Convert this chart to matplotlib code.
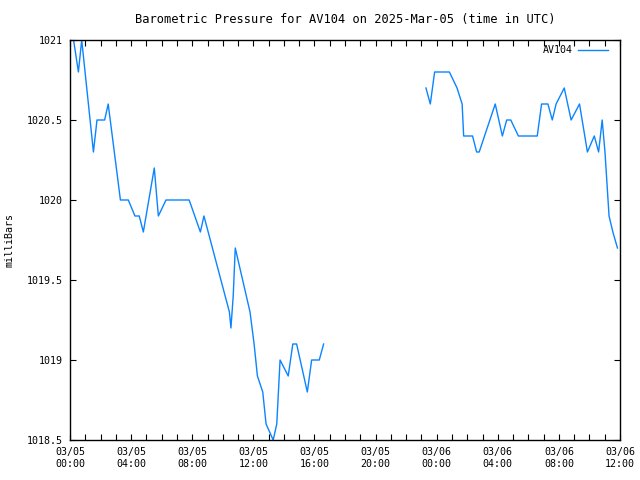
import pandas as pd
import matplotlib
matplotlib.use("Agg")
import matplotlib.pyplot as plt
import matplotlib.dates as mdates

plt.rcParams['font.family'] = ['DejaVu Sans Mono']
plt.rcParams['font.size'] = 7.2

## Readings (UTC), before the data gap
seg1_times = ["2025-03-05 00:14", "2025-03-05 00:33", "2025-03-05 00:46", "2025-03-05 01:32",
              "2025-03-05 01:46", "2025-03-05 02:16", "2025-03-05 02:30", "2025-03-05 03:18",
              "2025-03-05 03:49", "2025-03-05 04:15", "2025-03-05 04:32", "2025-03-05 04:48",
              "2025-03-05 05:31", "2025-03-05 05:47", "2025-03-05 06:17", "2025-03-05 07:48",
              "2025-03-05 08:32", "2025-03-05 08:46", "2025-03-05 10:26", "2025-03-05 10:32",
              "2025-03-05 10:41", "2025-03-05 10:49", "2025-03-05 11:47", "2025-03-05 12:03",
              "2025-03-05 12:16", "2025-03-05 12:37", "2025-03-05 12:50", "2025-03-05 13:18",
              "2025-03-05 13:32", "2025-03-05 13:45", "2025-03-05 14:17", "2025-03-05 14:35",
              "2025-03-05 14:50", "2025-03-05 15:32", "2025-03-05 15:49", "2025-03-05 16:19",
              "2025-03-05 16:36"]
seg1_mb = [1021.0, 1020.8, 1021.0, 1020.3,
           1020.5, 1020.5, 1020.6, 1020.0,
           1020.0, 1019.9, 1019.9, 1019.8,
           1020.2, 1019.9, 1020.0, 1020.0,
           1019.8, 1019.9, 1019.3, 1019.2,
           1019.4, 1019.7, 1019.3, 1019.1,
           1018.9, 1018.8, 1018.6, 1018.5,
           1018.6, 1019.0, 1018.9, 1019.1,
           1019.1, 1018.8, 1019.0, 1019.0,
           1019.1]

## after the gap
seg2_times = ["2025-03-05 23:18", "2025-03-05 23:35", "2025-03-05 23:52", "2025-03-06 00:50",
              "2025-03-06 01:20", "2025-03-06 01:40", "2025-03-06 01:46", "2025-03-06 02:21",
              "2025-03-06 02:37", "2025-03-06 02:47", "2025-03-06 03:50", "2025-03-06 04:18",
              "2025-03-06 04:35", "2025-03-06 04:51", "2025-03-06 05:21", "2025-03-06 06:35",
              "2025-03-06 06:52", "2025-03-06 07:17", "2025-03-06 07:34", "2025-03-06 07:49",
              "2025-03-06 08:21", "2025-03-06 08:48", "2025-03-06 09:21", "2025-03-06 09:52",
              "2025-03-06 10:19", "2025-03-06 10:36", "2025-03-06 10:50", "2025-03-06 11:01",
              "2025-03-06 11:17", "2025-03-06 11:32", "2025-03-06 11:50"]
seg2_mb = [1020.7, 1020.6, 1020.8, 1020.8,
           1020.7, 1020.6, 1020.4, 1020.4,
           1020.3, 1020.3, 1020.6, 1020.4,
           1020.5, 1020.5, 1020.4, 1020.4,
           1020.6, 1020.6, 1020.5, 1020.6,
           1020.7, 1020.5, 1020.6, 1020.3,
           1020.4, 1020.3, 1020.5, 1020.3,
           1019.9, 1019.8, 1019.7]

y_ticks = [1018.5, 1019, 1019.5, 1020, 1020.5, 1021]
y_labels = ["1018.5", "1019", "1019.5", "1020", "1020.5", "1021"]

fig = plt.figure(figsize=(6.4, 4.8), dpi=100)
ax = fig.add_axes([70/640, 40/480, 550/640, 400/480])

col = '#0a84ff'
ax.plot(pd.to_datetime(seg1_times), seg1_mb, color=col, lw=1, label='AV104')
ax.plot(pd.to_datetime(seg2_times), seg2_mb, color=col, lw=1)

ax.set_xlim(pd.Timestamp("2025-03-05 00:00"), pd.Timestamp("2025-03-06 12:00"))
ax.set_ylim(1018.5, 1021)
ax.set_yticks(y_ticks)
ax.set_yticklabels(y_labels)

ax.xaxis.set_major_locator(mdates.HourLocator(byhour=range(0, 24, 4)))
ax.xaxis.set_minor_locator(mdates.HourLocator())
ax.xaxis.set_major_formatter(mdates.DateFormatter('%m/%d\n%H:%M'))

ax.tick_params(which='both', direction='in', top=True, right=True, length=4, width=0.8, colors='black')
ax.tick_params(axis='x', which='major', pad=5)
ax.tick_params(axis='y', pad=5)
for s in ax.spines.values():
    s.set_linewidth(1)

ax.set_title("Barometric Pressure for AV104 on 2025-Mar-05 (time in UTC)", pad=12)
fig.text(10/640, 0.5, "milliBars", rotation=90, ha='center', va='center')

ax.legend(loc='upper right', bbox_to_anchor=(0.988, 0.999), frameon=False, markerfirst=False,
          handlelength=3.0, borderaxespad=0.1, handletextpad=0.6)

fig.savefig("out.png", dpi=100)
